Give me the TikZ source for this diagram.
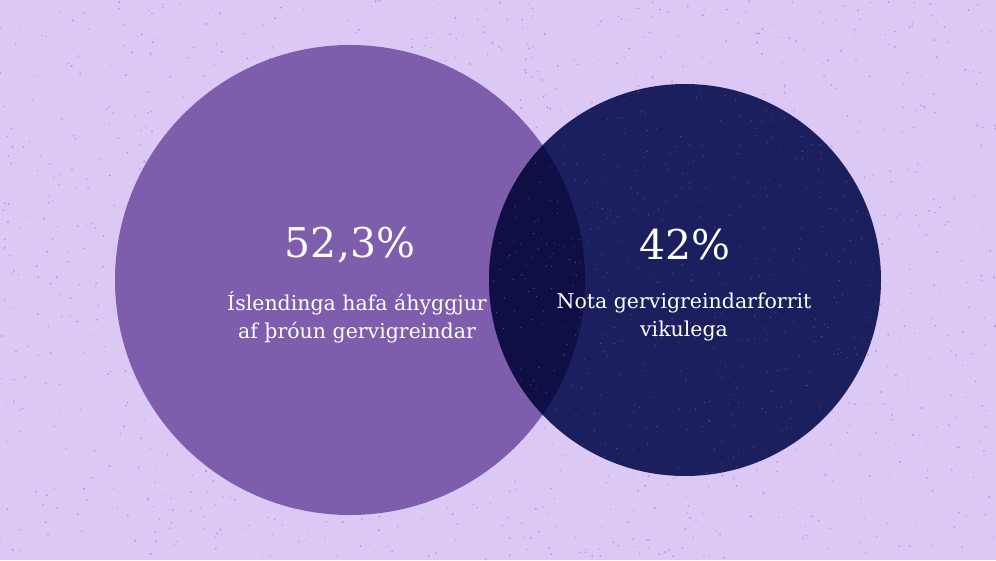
\documentclass[tikz,border=0pt]{standalone}
\usepackage{fontspec}
\setmainfont{DejaVu Serif}
\definecolor{bgc}{HTML}{DCC8F5}
\definecolor{purp}{HTML}{7F5DAD}
\definecolor{navy}{HTML}{1B1F5E}
\definecolor{deep}{HTML}{100F45}
\definecolor{speck}{HTML}{9078C0}
\definecolor{lspeck}{HTML}{7060B0}
\tikzset{
  bignum/.style={text=white,font=\fontsize{41}{44}\selectfont},
  caption/.style={text=white,font=\fontsize{20.5}{28}\selectfont,align=center},
}
\begin{document}
\begin{tikzpicture}[x=1pt,y=-1pt]
\useasboundingbox (0,0) rectangle (996,560);
\fill[bgc] (0,0) rectangle (996,560);
\pgfmathsetseed{7}
\foreach \i in {1,...,1500}{
  \pgfmathsetmacro{\px}{rnd*996}
  \pgfmathsetmacro{\py}{rnd*560}
  \pgfmathsetmacro{\pr}{0.5+rnd*0.6}
  \fill[speck,opacity=0.6] (\px,\py) circle (\pr);
}
\coordinate (cp) at (350,280);
\coordinate (cn) at (685,280);
\fill[purp] (cp) circle (235);
\fill[navy] (cn) circle (196);
\begin{scope}
  \clip (cp) circle (235);
  \fill[deep] (cn) circle (196);
\end{scope}
\begin{scope}
  \clip (cn) circle (196);
  \foreach \i in {1,...,500}{
    \pgfmathsetmacro{\px}{489+rnd*392}
    \pgfmathsetmacro{\py}{84+rnd*392}
    \fill[lspeck,opacity=0.8] (\px,\py) circle (0.6);
  }
\end{scope}
\node[bignum] (n1) at (350,245) {52,3\%};
\node[caption] (t1) at (357,317) {Íslendinga hafa áhyggjur\\af þróun gervigreindar};
\node[bignum] (n2) at (685,245) {42\%};
\node[caption] (t2) at (684,317) {Nota gervigreindarforrit\\vikulega};
\end{tikzpicture}
\end{document}
